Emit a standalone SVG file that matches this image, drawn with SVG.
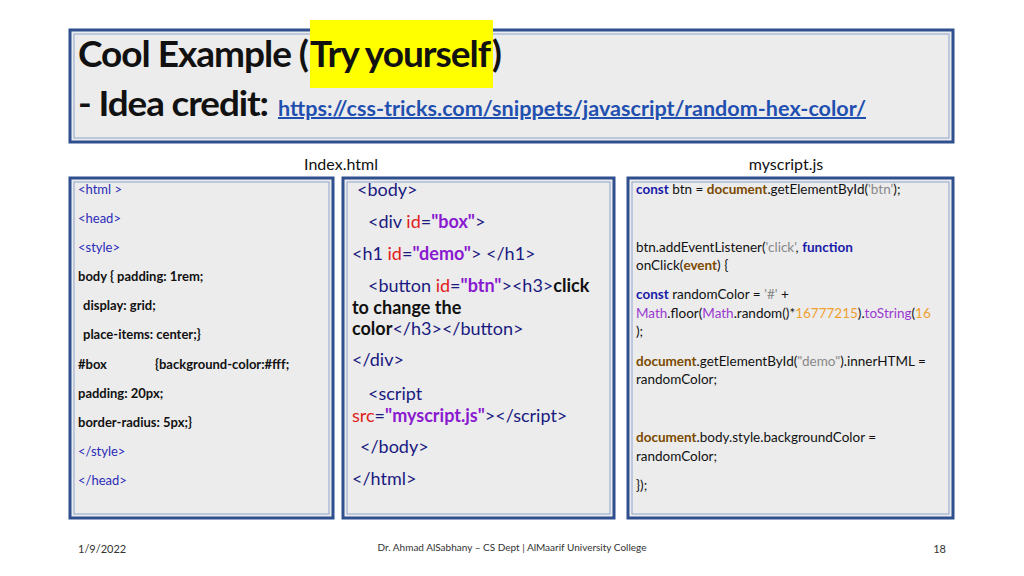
<svg xmlns="http://www.w3.org/2000/svg" width="1024" height="576" viewBox="0 0 1024 576">
<style>
text{font-family:Lato,"Open Sans",sans-serif}
.pan{fill:#ececec;stroke:#2f4f8f;stroke-width:3}
.in{fill:none;stroke:#8fa4cc;stroke-width:1}
.t{fill:#2b2bb8}.b{font-weight:bold}
.s{font-size:13px;fill:#111}
.m{font-size:18px;fill:#1a1a80}
.r{font-size:13.5px;fill:#111}
.kw{fill:#1a1aa8;font-weight:bold}.doc{fill:#7a4a00;font-weight:bold}
.str{fill:#888}.num{fill:#f0a030}.mt{fill:#9a3ad0}.at{fill:#e0201a}.val{fill:#8a1ad0;font-weight:bold}
</style>
<rect width="1024" height="576" fill="#fff"/>
<g id="title">
<rect class="pan" x="70" y="30" width="883" height="112"/>
<rect class="in" x="74" y="34" width="875" height="104"/>
<rect x="310" y="20" width="183" height="68" fill="#ffff00"/>
<text y="67" font-size="36" font-weight="bold" fill="#111" letter-spacing="-1"><tspan x="78" textLength="230" lengthAdjust="spacingAndGlyphs">Cool Example (</tspan><tspan x="310" textLength="180" lengthAdjust="spacingAndGlyphs">Try yourself</tspan><tspan x="492">)</tspan></text>
<text x="78" y="116" font-size="34" font-weight="bold" fill="#111" letter-spacing="-1" textLength="190" lengthAdjust="spacingAndGlyphs">- Idea credit:</text>
<text x="278" y="116" font-size="20" font-weight="bold" fill="#1f50b0" text-decoration="underline" textLength="588" lengthAdjust="spacingAndGlyphs">https://css-tricks.com/snippets/javascript/random-hex-color/</text>
</g>
<text x="341" y="170" font-size="16" text-anchor="middle" fill="#111">Index.html</text>
<text x="786" y="170" font-size="16" text-anchor="middle" fill="#111">myscript.js</text>
<g id="left">
<rect class="pan" x="70" y="178" width="263" height="340"/>
<rect class="in" x="74" y="182" width="255" height="332"/>
<text class="s"><tspan class="t" x="78" y="194">&lt;html &gt;</tspan><tspan class="t" x="78" y="223">&lt;head&gt;</tspan><tspan class="t" x="78" y="252">&lt;style&gt;</tspan><tspan class="b" x="78" y="281">body {  padding: 1rem;</tspan><tspan class="b" x="83" y="310">display: grid;</tspan><tspan class="b" x="83" y="339">place-items: center;}</tspan><tspan class="b" x="78" y="369">#box</tspan><tspan class="b" x="155" y="369">{background-color:#fff;</tspan><tspan class="b" x="78" y="398">padding: 20px;</tspan><tspan class="b" x="78" y="427">border-radius: 5px;}</tspan><tspan class="t" x="78" y="456">&lt;/style&gt;</tspan><tspan class="t" x="78" y="485">&lt;/head&gt;</tspan></text>
</g>
<g id="middle">
<rect class="pan" x="343" y="178" width="271" height="340"/>
<rect class="in" x="347" y="182" width="263" height="332"/>
<text class="m"><tspan x="357" y="196">&lt;body&gt;</tspan><tspan x="368" y="228">&lt;div <tspan class="at">id</tspan>=<tspan class="val">"box"</tspan>&gt;</tspan><tspan x="352" y="260">&lt;h1 <tspan class="at">id</tspan>=<tspan class="val">"demo"</tspan>&gt; &lt;/h1&gt;</tspan><tspan x="368" y="292">&lt;button <tspan class="at">id</tspan>=<tspan class="val">"btn"</tspan>&gt;&lt;h3&gt;<tspan fill="#111" font-weight="bold">click</tspan></tspan><tspan x="352" y="314" fill="#111" font-weight="bold">to change the</tspan><tspan x="352" y="335"><tspan fill="#111" font-weight="bold">color</tspan>&lt;/h3&gt;&lt;/button&gt;</tspan><tspan x="352" y="366">&lt;/div&gt;</tspan><tspan x="368" y="400">&lt;script</tspan><tspan x="352" y="422"><tspan class="at">src</tspan>=<tspan class="val">"myscript.js"</tspan>&gt;&lt;/script&gt;</tspan><tspan x="360" y="453">&lt;/body&gt;</tspan><tspan x="352" y="485">&lt;/html&gt;</tspan></text>
</g>
<g id="right">
<rect class="pan" x="628" y="178" width="325" height="340"/>
<rect class="in" x="632" y="182" width="317" height="332"/>
<text class="r"><tspan x="636" y="194"><tspan class="kw">const</tspan> btn = <tspan class="doc">document</tspan>.getElementById(<tspan class="str">'btn'</tspan>);</tspan><tspan x="636" y="252">btn.addEventListener(<tspan class="str">'click'</tspan>, <tspan class="kw">function</tspan></tspan><tspan x="636" y="270">onClick(<tspan class="doc">event</tspan>) {</tspan><tspan x="636" y="299"><tspan class="kw">const</tspan> randomColor = <tspan class="str">'#'</tspan> +</tspan><tspan x="636" y="318"><tspan class="mt">Math</tspan>.floor(<tspan class="mt">Math</tspan>.random()*<tspan class="num">16777215</tspan>).<tspan class="mt">toString</tspan>(<tspan class="num">16</tspan></tspan><tspan x="636" y="336">);</tspan><tspan x="636" y="366"><tspan class="doc">document</tspan>.getElementById(<tspan class="str">"demo"</tspan>).innerHTML =</tspan><tspan x="636" y="384">randomColor;</tspan><tspan x="636" y="442"><tspan class="doc">document</tspan>.body.style.backgroundColor =</tspan><tspan x="636" y="461">randomColor;</tspan><tspan x="636" y="490">});</tspan></text>
</g>
<g id="footer" font-size="11" fill="#333">
<text x="78" y="553">1/9/2022</text>
<text x="512" y="551" text-anchor="middle" font-size="10">Dr. Ahmad AlSabhany – CS Dept | AlMaarif University College</text>
<text x="946" y="553" text-anchor="end">18</text>
</g>
</svg>
